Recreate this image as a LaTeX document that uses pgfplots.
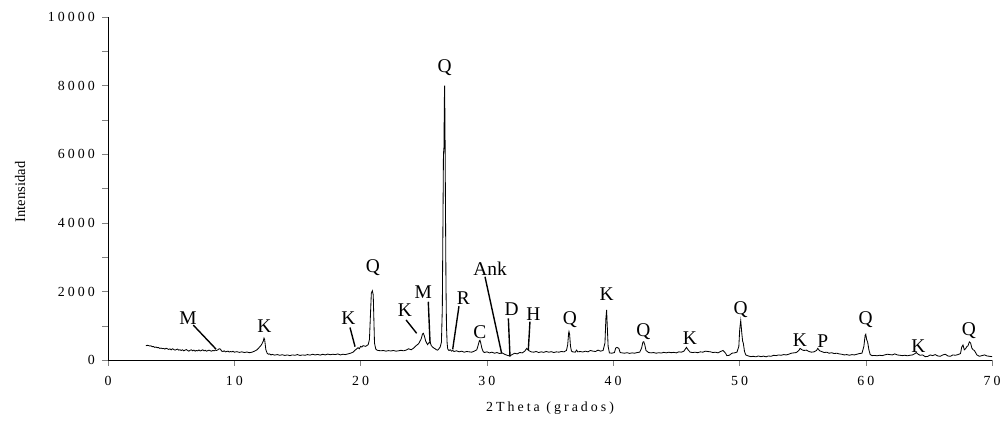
\documentclass[border=0pt]{standalone}
\usepackage{fontspec}
\setmainfont{Liberation Serif}
\newfontfamily\spaced[LetterSpace=22]{Liberation Serif}
\usepackage{pgfplots}
\pgfplotsset{compat=1.18}
\begin{document}
\begin{tikzpicture}
\begin{axis}[
  scale only axis,
  width=636.5pt, height=247pt,
  xmin=0, xmax=70, ymin=0, ymax=10000,
  axis x line*=bottom, axis y line*=left,
  axis line style={line width=0.6pt, black},
  tick align=outside,
  major tick length=4pt, minor tick length=4pt,
  xtick={0,10,...,70},
  ytick={0,2000,...,10000},
  minor ytick={1000,3000,...,9000},
  scaled ticks=false,
  /pgf/number format/.cd, fixed, 1000 sep={}, assume math mode=true,
  /pgfplots/.cd,
  tick label style={font=\spaced\fontsize{10}{12}\selectfont},
  xticklabel style={yshift=-4pt},
  yticklabel style={xshift=-2pt},
  xlabel={2Theta (grados)},
  ylabel={Intensidad},
  xlabel style={font=\spaced\fontsize{10}{12}\selectfont, at={(axis description cs:0.5,-0.14)}, anchor=center},
  ylabel style={font=\fontsize{10.5}{12}\selectfont, at={(axis description cs:-0.0995,0.49)}, anchor=center},
  clip=false,
]
\addplot[black, line width=0.6pt, mark=none] coordinates {
(3.0,420)(3.1,430)(3.2,425)(3.3,410)(3.4,415)(3.5,390)(3.6,395)(3.7,370)(3.8,380)(3.9,360)
(4.0,365)(4.1,340)(4.2,350)(4.3,335)(4.4,340)(4.5,320)(4.6,345)(4.7,330)(4.8,310)(4.9,325)
(5.0,300)(5.1,330)(5.2,310)(5.3,290)(5.4,305)(5.5,320)(5.6,290)(5.7,300)(5.8,280)(5.9,300)
(6.0,270)(6.1,290)(6.2,305)(6.3,280)(6.4,260)(6.5,285)(6.6,300)(6.7,270)(6.8,290)(6.9,260)
(7.0,280)(7.1,270)(7.2,295)(7.3,265)(7.4,280)(7.5,300)(7.6,270)(7.7,285)(7.8,260)(7.9,275)
(8.0,290)(8.1,270)(8.2,260)(8.3,280)(8.4,270)(8.5,290)(8.6,280)(8.7,300)(8.8,330)(8.9,320)
(9.0,260)(9.1,250)(9.2,270)(9.3,240)(9.4,250)(9.5,260)(9.6,235)(9.7,250)(9.8,240)(9.9,255)
(10.0,230)(10.2,245)(10.4,225)(10.6,240)(10.8,220)(11.0,235)(11.2,215)(11.4,230)(11.6,260)(11.8,300)
(12.0,380)(12.1,420)(12.2,480)(12.3,560)(12.35,640)(12.4,600)(12.45,450)(12.5,300)(12.6,200)(12.7,170)
(12.8,180)(12.9,150)(13.0,165)(13.2,145)(13.4,160)(13.6,140)(13.8,155)(14.0,135)(14.2,150)(14.4,130)
(14.6,150)(14.8,140)(15.0,160)(15.2,135)(15.4,150)(15.6,140)(15.8,160)(16.0,145)(16.2,170)(16.4,150)
(16.6,165)(16.8,145)(17.0,170)(17.2,150)(17.4,175)(17.6,155)(17.8,170)(18.0,160)(18.2,180)(18.4,150)
(18.6,170)(18.8,160)(19.0,180)(19.2,200)(19.4,230)(19.6,300)(19.8,360)(19.9,330)(20.0,400)(20.1,380)
(20.2,420)(20.4,400)(20.6,450)(20.7,600)(20.8,1500)(20.85,1950)(20.93,2020)(21.0,1900)(21.05,1200)(21.1,500)
(21.2,320)(21.3,290)(21.4,280)(21.6,270)(21.8,280)(22.0,260)(22.2,275)(22.4,265)(22.6,280)(22.8,260)
(23.0,270)(23.2,285)(23.4,270)(23.6,290)(23.8,330)(24.0,300)(24.2,350)(24.4,420)(24.6,480)(24.8,620)
(24.9,760)(24.97,780)(25.05,700)(25.15,560)(25.3,450)(25.4,500)(25.5,530)(25.6,420)(25.7,380)(25.8,350)
(25.9,330)(26.0,300)(26.1,290)(26.2,330)(26.3,380)(26.4,520)(26.47,1500)(26.52,4000)(26.56,6000)(26.6,6200)
(26.63,7500)(26.65,8000)(26.68,7000)(26.72,4500)(26.76,2200)(26.8,1000)(26.85,500)(26.9,320)(27.0,280)(27.1,300)
(27.2,260)(27.3,280)(27.4,250)(27.6,270)(27.8,240)(28.0,260)(28.2,230)(28.4,250)(28.6,240)(28.8,230)
(29.0,260)(29.2,300)(29.3,420)(29.4,560)(29.45,580)(29.5,520)(29.6,350)(29.7,250)(29.8,220)(30.0,240)
(30.2,210)(30.4,230)(30.6,200)(30.8,220)(31.0,190)(31.2,210)(31.4,170)(31.6,140)(31.8,120)(32.0,160)
(32.2,200)(32.4,180)(32.6,220)(32.8,210)(33.0,260)(33.15,340)(33.3,280)(33.5,240)(33.7,230)(33.9,250)
(34.1,220)(34.3,240)(34.5,225)(34.7,250)(34.9,230)(35.1,245)(35.3,220)(35.5,240)(35.7,230)(35.9,250)
(36.1,240)(36.3,280)(36.4,450)(36.47,780)(36.5,830)(36.55,750)(36.62,400)(36.7,260)(36.8,240)(37.0,230)
(37.1,290)(37.2,240)(37.4,250)(37.6,235)(37.8,260)(38.0,240)(38.2,280)(38.4,260)(38.6,250)(38.8,290)
(39.0,260)(39.2,280)(39.35,500)(39.42,1200)(39.48,1460)(39.53,1000)(39.6,400)(39.7,210)(39.9,200)(40.1,220)
(40.2,350)(40.3,370)(40.45,340)(40.55,220)(40.7,210)(40.9,200)(41.1,215)(41.3,195)(41.5,210)(41.7,200)
(41.9,220)(42.1,230)(42.25,350)(42.35,520)(42.42,535)(42.5,450)(42.6,280)(42.8,220)(43.0,210)(43.2,220)
(43.4,200)(43.6,215)(43.8,205)(44.0,225)(44.2,210)(44.4,230)(44.6,215)(44.8,225)(45.0,210)(45.2,240)
(45.4,230)(45.6,260)(45.8,370)(45.95,290)(46.1,230)(46.3,220)(46.5,230)(46.7,215)(46.9,240)(47.1,230)
(47.3,260)(47.5,250)(47.7,240)(47.9,220)(48.1,230)(48.3,210)(48.5,250)(48.7,280)(48.9,200)(49.0,130)
(49.2,140)(49.4,200)(49.6,210)(49.8,230)(49.95,400)(50.02,900)(50.1,1150)(50.18,800)(50.25,550)(50.3,500)
(50.4,250)(50.5,150)(50.7,120)(50.9,100)(51.1,110)(51.3,95)(51.5,120)(51.7,100)(51.9,115)(52.1,95)
(52.3,120)(52.5,110)(52.7,140)(52.9,130)(53.1,150)(53.3,140)(53.5,160)(53.7,150)(53.9,170)(54.1,200)
(54.3,210)(54.5,220)(54.7,280)(54.8,340)(54.95,300)(55.1,280)(55.3,290)(55.5,250)(55.7,230)(55.9,240)
(56.1,280)(56.2,340)(56.35,270)(56.5,250)(56.7,220)(56.9,230)(57.1,200)(57.3,215)(57.5,190)(57.7,200)
(57.9,180)(58.1,170)(58.3,150)(58.5,160)(58.7,140)(58.9,160)(59.1,150)(59.3,170)(59.5,190)(59.7,200)
(59.85,400)(59.95,720)(60.0,750)(60.07,600)(60.15,520)(60.25,300)(60.35,160)(60.5,130)(60.7,135)(60.9,125)
(61.1,140)(61.3,130)(61.5,150)(61.7,170)(61.9,160)(62.1,150)(62.3,180)(62.5,150)(62.7,140)(62.9,130)
(63.1,140)(63.3,125)(63.5,140)(63.7,150)(63.9,190)(64.0,220)(64.15,170)(64.3,140)(64.5,150)(64.7,100)
(64.9,105)(65.1,150)(65.3,130)(65.5,160)(65.7,120)(65.9,110)(66.1,150)(66.3,170)(66.5,120)(66.7,110)
(66.9,150)(67.1,140)(67.3,160)(67.5,190)(67.6,380)(67.7,440)(67.8,300)(67.9,330)(68.0,390)(68.1,420)
(68.2,530)(68.3,500)(68.4,350)(68.5,300)(68.6,280)(68.8,150)(69.0,110)(69.2,130)(69.4,150)(69.6,120)
(69.8,110)(70.0,100)
};
% annotations
\begin{scope}[every node/.style={font=\fontsize{14}{14}\selectfont, inner sep=0pt}]
\node at (axis cs:6.33,1220) {M};
\draw[line width=1pt] (axis cs:6.75,1020) -- (axis cs:8.55,320);
\node at (axis cs:12.38,990) {K};
\node at (axis cs:19.03,1215) {K};
\draw[line width=1pt] (axis cs:19.16,950) -- (axis cs:19.56,390);
\node at (axis cs:20.98,2680) {Q};
\node at (axis cs:23.5,1460) {K};
\draw[line width=1pt] (axis cs:23.6,1170) -- (axis cs:24.44,780);
\node at (axis cs:24.97,1990) {M};
\draw[line width=1pt] (axis cs:25.36,1700) -- (axis cs:25.5,490);
\node at (axis cs:26.65,8510) {Q};
\node at (axis cs:28.13,1800) {R};
\draw[line width=1pt] (axis cs:27.79,1570) -- (axis cs:27.29,310);
\node at (axis cs:29.45,800) {C};
\node at (axis cs:30.25,2670) {Ank};
\draw[line width=1pt] (axis cs:29.85,2430) -- (axis cs:31.17,190);
\node at (axis cs:31.96,1480) {D};
\draw[line width=1pt] (axis cs:31.7,1215) -- (axis cs:31.83,100);
\node at (axis cs:33.68,1330) {H};
\draw[line width=1pt] (axis cs:33.41,1120) -- (axis cs:33.28,290);
\node at (axis cs:36.58,1170) {Q};
\node at (axis cs:39.48,1920) {K};
\node at (axis cs:42.39,840) {Q};
\node at (axis cs:46.08,630) {K};
\node at (axis cs:50.1,1460) {Q};
\node at (axis cs:54.79,580) {K};
\node at (axis cs:56.6,560) {P};
\node at (axis cs:59.99,1170) {Q};
\node at (axis cs:64.16,400) {K};
\node at (axis cs:68.17,870) {Q};
\end{scope}
\coordinate (bbSW) at (rel axis cs:-0.1222,-0.1953);
\coordinate (bbNE) at (rel axis cs:1.009,1.0496);
\end{axis}
\pgfresetboundingbox
\path[use as bounding box] (bbSW) rectangle (bbNE);
\end{tikzpicture}
\end{document}
